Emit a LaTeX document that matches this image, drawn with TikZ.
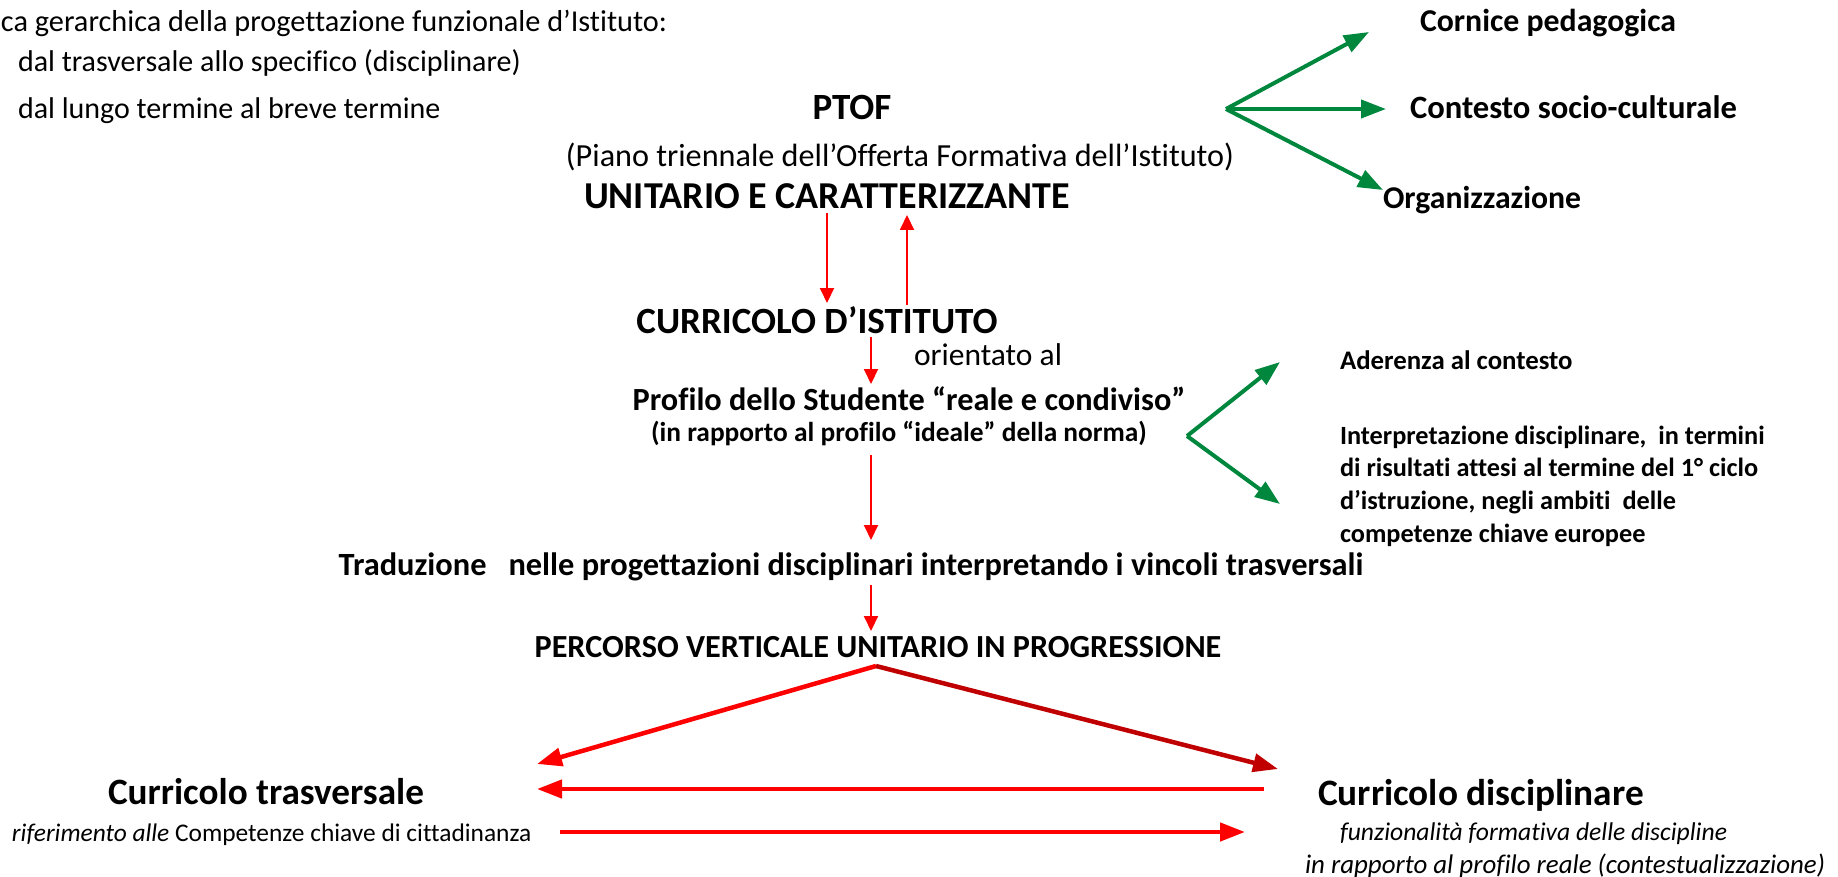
\documentclass[tikz,border=0pt]{standalone}
\usepackage{fontspec}
\setmainfont{Carlito}[Ligatures=NoCommon]
\usetikzlibrary{arrows.meta}
\definecolor{pgreen}{RGB}{0,135,62}
\definecolor{pred}{RGB}{255,0,0}
\definecolor{dred}{RGB}{192,0,0}
\newcommand{\myfs}[1]{\fontsize{#1}{#1}\selectfont}
\begin{document}
\begin{tikzpicture}[x=1pt,y=-1pt,
  txt/.style={inner sep=0pt, outer sep=0pt},
  redthin/.style={draw=pred, line width=2pt, -{Triangle[length=15pt,width=14pt]}},
  redthick/.style={draw=pred, line width=4.5pt, -{Triangle[length=25pt,width=18pt]}},
  darkthick/.style={draw=dred, line width=4.5pt, -{Triangle[length=25pt,width=18pt]}},
  greenarr/.style={draw=pgreen, line width=4pt, -{Triangle[length=25pt,width=18pt]}}]
\useasboundingbox (0,0) rectangle (1838,877);
% header
\node[txt, anchor=mid west] (h1) at (1,29) {\myfs{30.3}ca gerarchica della progettazione funzionale d’Istituto:};
\node[txt, anchor=mid west] (h2) at (18,69) {\myfs{30}dal trasversale allo specifico (disciplinare)};
\node[txt, anchor=mid west] (h3) at (18,116) {\myfs{30}dal lungo termine al breve termine};
% central column
\node[txt, anchor=mid] (ptof) at (852,117) {\myfs{37}\bfseries PTOF};
\node[txt, anchor=mid] (piano) at (900,164) {\myfs{32.2}(Piano triennale dell’Offerta Formativa dell’Istituto)};
\node[txt, anchor=mid] (unit) at (827,206) {\myfs{38}\bfseries UNITARIO E CARATTERIZZANTE};
\node[txt, anchor=mid] (curr) at (817,331) {\myfs{37}\bfseries CURRICOLO D’ISTITUTO};
\node[txt, anchor=mid west] (orient) at (914,363) {\myfs{31.5}orientato al};
\node[txt, anchor=mid] (prof) at (909,408) {\myfs{32.3}\bfseries Profilo dello Studente “reale e condiviso”};
\node[txt, anchor=mid] (rapp) at (899,439) {\myfs{27.4}\bfseries (in rapporto al profilo “ideale” della norma)};
\node[txt, anchor=mid] (trad) at (851,573) {\myfs{32.4}\bfseries Traduzione\ \ \ nelle progettazioni disciplinari interpretando i vincoli trasversali};
\node[txt, anchor=mid] (perc) at (878,655) {\myfs{32.2}\bfseries PERCORSO VERTICALE UNITARIO IN PROGRESSIONE};
% bottom
\node[txt, anchor=mid] (ctrasv) at (266,802) {\myfs{37.2}\bfseries Curricolo trasversale};
\node[txt, anchor=mid west] (rif) at (12,839) {\myfs{25.4}\itshape riferimento alle \upshape Competenze chiave di cittadinanza};
\node[txt, anchor=mid west] (cdisc) at (1318,803) {\myfs{37.3}\bfseries Curricolo disciplinare};
\node[txt, anchor=mid west] (funz) at (1340,838) {\myfs{25.6}\itshape funzionalità formativa delle discipline};
\node[txt, anchor=mid west] (inrapp) at (1305,871) {\myfs{26.9}\itshape in rapporto al profilo reale (contestualizzazione)};
% right side
\node[txt, anchor=mid west] (cornice) at (1420,29) {\myfs{31.8}\bfseries Cornice pedagogica};
\node[txt, anchor=mid west] (contesto) at (1410,116) {\myfs{32.6}\bfseries Contesto socio-culturale};
\node[txt, anchor=mid west] (organ) at (1383,206) {\myfs{31.7}\bfseries Organizzazione};
\node[txt, anchor=mid west] (aderenza) at (1340,367) {\myfs{26.8}\bfseries Aderenza al contesto};
\node[txt, anchor=west, align=left, font={\fontsize{26.3}{32.7}\selectfont\bfseries}] (interp) at (1340,486)
  {Interpretazione disciplinare,\ \ in termini\\di risultati attesi al termine del 1° ciclo\\d’istruzione, negli ambiti\ \ delle\\competenze chiave europee};
% coordinates for connector ends
\coordinate (g1) at (1226,109);
\coordinate (g1a) at (1369,32);
\coordinate (g1b) at (1386,109);
\coordinate (g1c) at (1383,190);
\coordinate (g2) at (1187,436);
\coordinate (g2a) at (1280,362);
\coordinate (g2b) at (1280,504);
\coordinate (d1s) at (827,213);
\coordinate (d1e) at (827,303);
\coordinate (u1s) at (907,305);
\coordinate (u1e) at (907,215);
\coordinate (d2s) at (871,337);
\coordinate (d2e) at (871,384);
\coordinate (d3s) at (871,455);
\coordinate (d3e) at (871,540);
\coordinate (d4s) at (871,585);
\coordinate (d4e) at (871,631);
\coordinate (apex) at (876,666);
\coordinate (lefttip) at (537,764);
\coordinate (righttip) at (1278,769);
\coordinate (h1s) at (1264,789);
\coordinate (h1e) at (537,789);
\coordinate (h2s) at (560,832);
\coordinate (h2e) at (1245,832);
% connectors
\draw[greenarr] (g1) -- (g1a);
\draw[greenarr] (g1) -- (g1b);
\draw[greenarr] (g1) -- (g1c);
\draw[greenarr] (g2) -- (g2a);
\draw[greenarr] (g2) -- (g2b);
\draw[redthin] (d1s) -- (d1e);
\draw[redthin] (u1s) -- (u1e);
\draw[redthin] (d2s) -- (d2e);
\draw[redthin] (d3s) -- (d3e);
\draw[redthin] (d4s) -- (d4e);
\draw[redthick] (apex) -- (lefttip);
\draw[darkthick] (apex) -- (righttip);
\draw[redthick] (h1s) -- (h1e);
\draw[redthick] (h2s) -- (h2e);
\end{tikzpicture}
\end{document}
